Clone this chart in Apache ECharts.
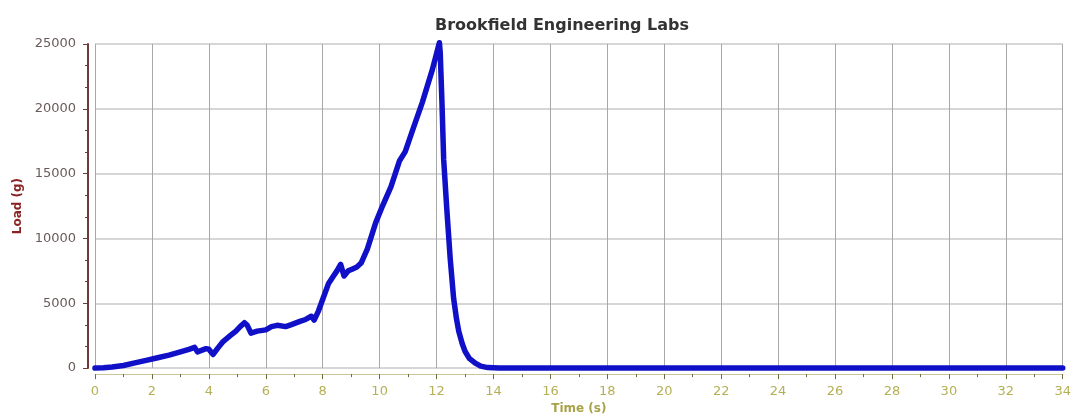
<!DOCTYPE html>
<html>
<head>
<meta charset="utf-8">
<title>Brookfield Engineering Labs</title>
<script src="https://cdn.jsdelivr.net/npm/echarts@6/dist/echarts.min.js"></script>
<style>
  html, body { margin: 0; padding: 0; background: #ffffff; }
  #chart { width: 1074px; height: 420px; }
</style>
</head>
<body>
<div id="chart"></div>
<script>
// Texture analyser run: load on the probe versus elapsed time
const chartTitle = 'Brookfield Engineering Labs';
const xAxisName = 'Time (s)';
const yAxisName = 'Load (g)';

const timeS = [
  0, 0.3, 0.6, 1.0, 1.4, 1.8, 2.2, 2.6, 3.0, 3.3, 3.5, 3.6, 3.9, 4.0, 4.15, 4.3,
  4.5, 4.75, 4.95, 5.1, 5.25, 5.35, 5.48, 5.7, 6.0, 6.2, 6.4, 6.7, 6.9, 7.2, 7.4,
  7.6, 7.7, 7.85, 8.05, 8.2, 8.35, 8.5, 8.63, 8.75, 8.9, 9.05, 9.2, 9.35, 9.57,
  9.86, 10.1, 10.4, 10.7, 10.9, 11.15, 11.5, 11.85, 12.1, 12.13, 12.19, 12.25,
  12.36, 12.48, 12.6, 12.7, 12.78, 12.9, 13.0, 13.15, 13.36, 13.55, 13.8, 14.2,
  15, 16, 17, 18, 19, 20, 21, 22, 23, 24, 25, 26, 27, 28, 29, 30, 31, 32, 33, 34
];
const loadG = [
  0, 20, 80, 200, 400, 600, 800, 1000, 1250, 1450, 1600, 1250, 1500, 1450, 1050, 1500,
  2050, 2500, 2850, 3200, 3500, 3300, 2700, 2850, 2950, 3200, 3300, 3200, 3350, 3600, 3750,
  4000, 3700, 4400, 5600, 6500, 7000, 7500, 8000, 7100, 7500, 7650, 7800, 8100, 9200,
  11200, 12500, 14000, 16000, 16700, 18300, 20500, 23000, 25100, 24300, 20500, 16100,
  12270, 8440, 5370, 3800, 2840, 1900, 1300, 750, 380, 150, 40, 0,
  0, 0, 0, 0, 0, 0, 0, 0, 0, 0, 0, 0, 0, 0, 0, 0, 0, 0, 0, 0
];

const xTicks = { min: 0, max: 34, interval: 2 };
const yTicks = { min: 0, max: 25000, interval: 5000 };

const points = timeS.map((t, i) => [t, loadG[i]]);
const labelFont = 'DejaVu Sans, Verdana, sans-serif';

const chart = echarts.init(document.getElementById('chart'), null, { renderer: 'canvas' });
chart.setOption({
  animation: false,
  backgroundColor: '#ffffff',
  title: {
    text: chartTitle,
    left: 557,
    top: 13,
    textAlign: 'center',
    textStyle: {
      fontFamily: labelFont,
      fontSize: 16,
      fontWeight: 'bold',
      color: '#333333'
    }
  },
  grid: { left: 95, right: 7, top: 44, bottom: 47, containLabel: false },
  xAxis: {
    type: 'value',
    min: xTicks.min,
    max: xTicks.max,
    interval: xTicks.interval,
    offset: 6,
    name: xAxisName,
    nameLocation: 'middle',
    nameGap: 28,
    nameTextStyle: {
      fontFamily: labelFont,
      fontSize: 12,
      fontWeight: 'bold',
      color: '#a8a24a'
    },
    axisLine: { show: true, onZero: false, lineStyle: { color: '#c9c59a', width: 1 } },
    axisTick: { show: true, inside: false, length: 5, lineStyle: { color: '#6e6a3a' } },
    minorTick: { show: true, splitNumber: 2, length: 3, lineStyle: { color: '#6e6a3a' } },
    axisLabel: {
      margin: 11,
      fontFamily: labelFont,
      fontSize: 13,
      color: '#b5b055'
    },
    splitLine: { show: true, lineStyle: { color: '#a8a8a8', width: 1 } }
  },
  yAxis: {
    type: 'value',
    min: yTicks.min,
    max: yTicks.max,
    interval: yTicks.interval,
    offset: 7,
    name: yAxisName,
    nameLocation: 'middle',
    nameGap: 61,
    nameRotate: 90,
    nameTextStyle: {
      fontFamily: labelFont,
      fontSize: 12,
      fontWeight: 'bold',
      color: '#8a2424'
    },
    axisLine: { show: true, onZero: false, lineStyle: { color: '#6e3a3a', width: 2 } },
    axisTick: { show: true, inside: false, length: 5, lineStyle: { color: '#6e3a3a' } },
    minorTick: { show: true, splitNumber: 3, length: 3, lineStyle: { color: '#6e3a3a' } },
    axisLabel: {
      margin: 12,
      fontFamily: labelFont,
      fontSize: 13,
      color: '#6a5a5a',
      formatter: (v) => String(v)
    },
    splitLine: { show: true, lineStyle: { color: '#d6d6d6', width: 2 } }
  },
  series: [{
    type: 'line',
    data: points,
    clip: false,
    showSymbol: false,
    smooth: false,
    lineStyle: { color: '#1010c8', width: 5.5, join: 'round', cap: 'round' },
    itemStyle: { color: '#1010c8' }
  }]
});
</script>
</body>
</html>
